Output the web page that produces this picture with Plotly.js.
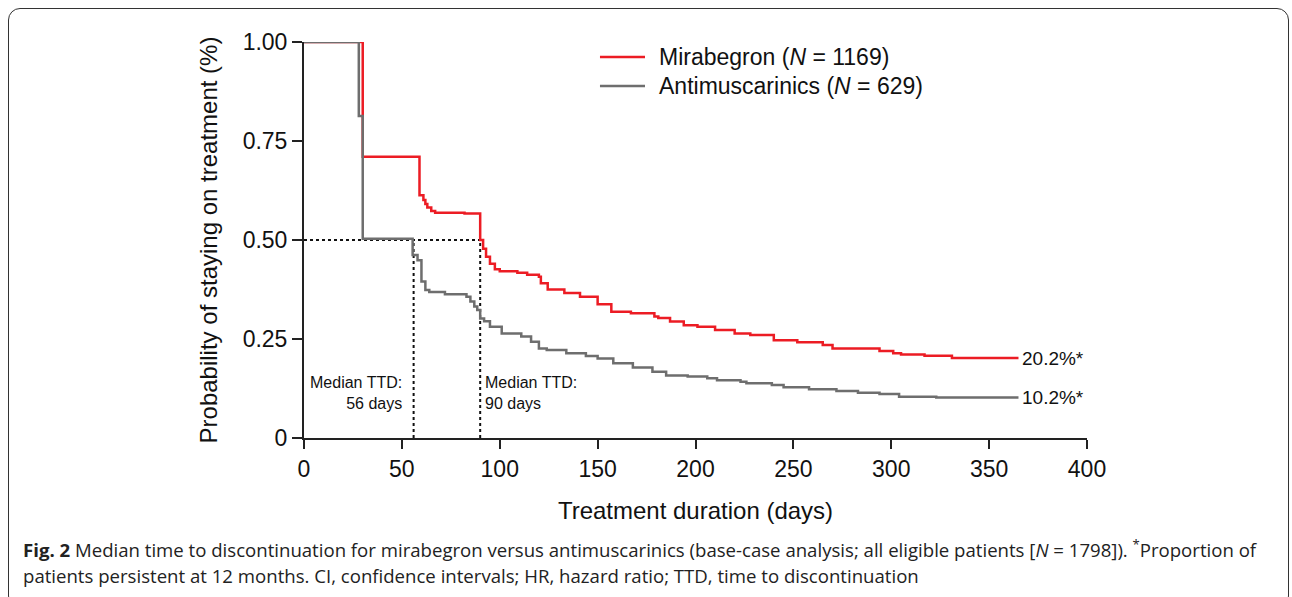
<!DOCTYPE html>
<html>
<head>
<meta charset="utf-8">
<script src="https://cdn.plot.ly/plotly-3.0.1.min.js"></script>
<style>
  html, body { margin: 0; padding: 0; background: #fff; }
  #wrap { position: relative; width: 1292px; height: 597px; overflow: hidden; }
  #frame { position: absolute; left: 8px; top: 8px; width: 1281px; height: 600px;
           border: 1.5px solid #333; border-radius: 12px; box-sizing: border-box; }
  #chart { position: absolute; left: 0; top: 0; width: 1292px; height: 597px; }
</style>
</head>
<body>
<div id="wrap">
  <div id="frame"></div>
  <div id="chart"></div>
</div>
<script>
// ---- Data ----
const mirabegronDays = [0, 30, 59, 61, 62, 63, 65, 67, 82, 90, 91.5, 93, 95, 97.5, 100, 109, 114, 120, 121, 124.5, 133, 141, 150, 157, 167, 179, 181, 187, 194, 201, 210, 220, 228, 240, 252, 265, 270, 294, 301, 305, 317, 331, 365];
const mirabegronProb = [1.00, 0.71, 0.613, 0.601, 0.591, 0.582, 0.573, 0.569, 0.567, 0.50, 0.478, 0.458, 0.440, 0.426, 0.421, 0.417, 0.412, 0.407, 0.391, 0.375, 0.366, 0.357, 0.338, 0.319, 0.315, 0.307, 0.303, 0.294, 0.285, 0.281, 0.273, 0.264, 0.260, 0.247, 0.242, 0.235, 0.226, 0.220, 0.214, 0.211, 0.208, 0.202, 0.202];

const antimuscDays = [0, 28, 30, 55.5, 58, 60, 62, 64, 72, 83, 85, 87, 88.5, 90, 92, 95, 101, 111, 116, 120, 124, 134, 144, 150, 158, 168, 178, 185, 196, 206, 211, 223, 226, 239, 245, 258, 272, 283, 294, 304, 323, 365];
const antimuscProb = [1.00, 0.813, 0.503, 0.462, 0.449, 0.395, 0.374, 0.369, 0.363, 0.357, 0.345, 0.332, 0.323, 0.302, 0.295, 0.281, 0.264, 0.256, 0.243, 0.226, 0.222, 0.214, 0.207, 0.201, 0.189, 0.178, 0.167, 0.158, 0.155, 0.151, 0.146, 0.142, 0.138, 0.134, 0.128, 0.123, 0.119, 0.114, 0.111, 0.104, 0.102, 0.102];

const seriesNames = ['Mirabegron (<i>N</i> = 1169)', 'Antimuscarinics (<i>N</i> = 629)'];
const medianLevel = 0.50;
const medianDays = [56, 90];
const medianLabels = ['Median TTD:<br>56 days', 'Median TTD:<br>90 days'];
const endLabels = ['20.2%*', '10.2%*'];
const endValues = [0.202, 0.102];
const xTicks = [0, 50, 100, 150, 200, 250, 300, 350, 400];
const yTicks = [0, 0.25, 0.5, 0.75, 1.0];
const yTickText = ['0', '0.25', '0.50', '0.75', '1.00'];
const captionLine1 = '<b>Fig. 2</b> Median time to discontinuation for mirabegron versus antimuscarinics (base-case analysis; all eligible patients [<i>N</i> = 1798]). <sup>*</sup>Proportion of';
const captionLine2 = 'patients persistent at 12 months. CI, confidence intervals; HR, hazard ratio; TTD, time to discontinuation';

const RED = '#ec1c24';
const GRAY = '#6e6e6e';
const FONT = 'Liberation Sans, Arial, sans-serif';
const seriesColors = [RED, GRAY];

const traces = [
  { x: mirabegronDays, y: mirabegronProb, type: 'scatter', mode: 'lines', line: { shape: 'hv', color: RED, width: 2.5 }, name: seriesNames[0], showlegend: false },
  { x: antimuscDays, y: antimuscProb, type: 'scatter', mode: 'lines', line: { shape: 'hv', color: GRAY, width: 2.5 }, name: seriesNames[1], showlegend: false }
];

const dot = { color: '#111', width: 2, dash: 'dot' };
const shapes = [
  { type: 'line', xref: 'x', yref: 'y', x0: 0, x1: medianDays[1], y0: medianLevel, y1: medianLevel, line: dot, layer: 'below' },
  { type: 'line', xref: 'x', yref: 'y', x0: medianDays[0], x1: medianDays[0], y0: 0, y1: medianLevel, line: dot, layer: 'below' },
  { type: 'line', xref: 'x', yref: 'y', x0: medianDays[1], x1: medianDays[1], y0: 0, y1: medianLevel, line: dot, layer: 'below' }
];

// legend drawn as line keys + text labels (paper coordinates)
const legendY = [0.962, 0.889];
seriesNames.forEach((nm, i) => {
  shapes.push({ type: 'line', xref: 'paper', yref: 'paper', x0: 0.378, x1: 0.4355, y0: legendY[i], y1: legendY[i], line: { color: seriesColors[i], width: 2.5 } });
});

const annotations = [
  { x: medianDays[0], y: 0.114, xref: 'x', yref: 'y', text: medianLabels[0], showarrow: false, xanchor: 'right', yanchor: 'middle', align: 'right', xshift: -10, font: { family: FONT, size: 16, color: '#111' } },
  { x: medianDays[1], y: 0.114, xref: 'x', yref: 'y', text: medianLabels[1], showarrow: false, xanchor: 'left', yanchor: 'middle', align: 'left', xshift: 3, font: { family: FONT, size: 16, color: '#111' } },
  { x: 365, y: endValues[0], xref: 'x', yref: 'y', text: endLabels[0], showarrow: false, xanchor: 'left', yanchor: 'middle', xshift: 2, font: { family: FONT, size: 19, color: '#111' } },
  { x: 365, y: endValues[1], xref: 'x', yref: 'y', text: endLabels[1], showarrow: false, xanchor: 'left', yanchor: 'middle', xshift: 2, font: { family: FONT, size: 19, color: '#111' } },
  { x: -0.362, y: -0.278, xref: 'paper', yref: 'paper', text: captionLine1, showarrow: false, xanchor: 'left', yanchor: 'middle', align: 'left', font: { family: 'Open Sans, sans-serif', size: 18.6, color: '#222' } },
  { x: -0.362, y: -0.348, xref: 'paper', yref: 'paper', text: captionLine2, showarrow: false, xanchor: 'left', yanchor: 'middle', align: 'left', font: { family: 'Open Sans, sans-serif', size: 18.6, color: '#222' } }
];
seriesNames.forEach((nm, i) => {
  annotations.push({ x: 0.4508, y: legendY[i], xref: 'paper', yref: 'paper', text: nm, showarrow: false, xanchor: 'left', yanchor: 'middle', font: { family: FONT, size: 23, color: '#111' } });
});

const layout = {
  width: 1292, height: 597,
  margin: { l: 304, r: 205, t: 42, b: 159 },
  paper_bgcolor: 'rgba(0,0,0,0)',
  plot_bgcolor: 'rgba(0,0,0,0)',
  font: { family: FONT, color: '#111' },
  showlegend: false,
  xaxis: {
    range: [0, 400], tickvals: xTicks, showgrid: false, zeroline: false,
    showline: true, linecolor: '#222', linewidth: 2,
    ticks: 'outside', ticklen: 9, tickwidth: 2, tickcolor: '#222',
    tickfont: { family: FONT, size: 23, color: '#111' },
    title: { text: 'Treatment duration (days)', font: { family: FONT, size: 24, color: '#111' }, standoff: 22 }
  },
  yaxis: {
    range: [0, 1.0], tickvals: yTicks, ticktext: yTickText, showgrid: false, zeroline: false,
    showline: true, linecolor: '#222', linewidth: 2,
    ticks: 'outside', ticklen: 10, tickwidth: 2, tickcolor: '#222',
    tickfont: { family: FONT, size: 23, color: '#111' },
    title: { text: 'Probability of staying on treatment (%)', font: { family: FONT, size: 24, color: '#111' }, standoff: 18 }
  },
  shapes: shapes,
  annotations: annotations
};

Plotly.newPlot('chart', traces, layout, { displayModeBar: false, staticPlot: true });
</script>
</body>
</html>
